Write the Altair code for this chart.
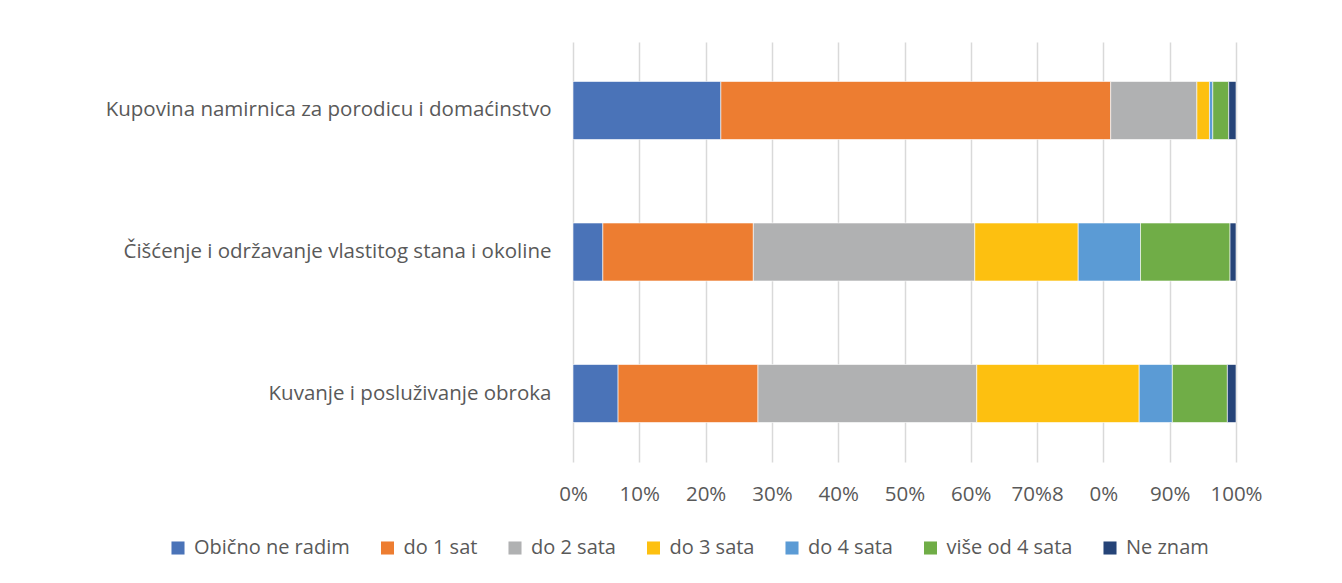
import altair as alt
import pandas as pd

activities = [
    "Kupovina namirnica za porodicu i domaćinstvo",
    "Čišćenje i održavanje vlastitog stana i okoline",
    "Kuvanje i posluživanje obroka",
]
categories = ["Obično ne radim", "do 1 sat", "do 2 sata", "do 3 sata", "do 4 sata", "više od 4 sata", "Ne znam"]
colors = ["#4a73b8", "#ed7d31", "#b0b1b2", "#fdc010", "#5b9bd5", "#70ad47", "#264478"]

kupovina = [22.3, 58.8, 13.0, 1.9, 0.5, 2.4, 1.1]
ciscenje = [4.5, 22.7, 33.4, 15.6, 9.4, 13.5, 0.9]
kuvanje = [6.8, 21.1, 33.0, 24.5, 5.0, 8.3, 1.3]

rows = []
for act, vals in zip(activities, [kupovina, ciscenje, kuvanje]):
    total = sum(vals)
    for i, (cat, v) in enumerate(zip(categories, vals)):
        rows.append({"activity": act, "category": cat, "value": v / total, "order": i})
df = pd.DataFrame(rows)

FONT = "Open Sans"
TXT = "#595959"
FS = 20.5

label_expr = ("datum.value > 0.65 && datum.value < 0.75 ? '70%8' : "
              "(datum.value > 0.75 && datum.value < 0.85 ? '0%' : format(datum.value, '.0%'))")

chart = alt.Chart(df).mark_bar(stroke="white", strokeWidth=0.6).encode(
    x=alt.X("value:Q", stack="zero",
            scale=alt.Scale(domain=[0, 1], nice=False),
            axis=alt.Axis(values=[0, 0.1, 0.2, 0.3, 0.4, 0.5, 0.6, 0.7, 0.8, 0.9, 1.0],
                          labelExpr=label_expr, labelFlush=False, labelOverlap=False,
                          title=None, ticks=False, domain=False, grid=True,
                          gridColor="#d9d9d9", gridWidth=1.5,
                          labelPadding=22, labelFontSize=FS, labelColor=TXT, labelFont=FONT)),
    y=alt.Y("activity:N", sort=activities,
            scale=alt.Scale(paddingInner=0.59, paddingOuter=0.279),
            axis=alt.Axis(title=None, ticks=False, domain=False, labelPadding=22,
                          labelFontSize=FS, labelColor=TXT, labelFont=FONT, labelLimit=700)),
    color=alt.Color("category:N", sort=categories,
                    scale=alt.Scale(domain=categories, range=colors),
                    legend=alt.Legend(title=None, orient="none", direction="horizontal",
                                      columns=7, legendX=-405, legendY=496,
                                      symbolType="square", symbolSize=170, symbolStrokeWidth=0,
                                      labelFontSize=20, labelColor=TXT, labelFont=FONT,
                                      columnPadding=27.5, labelOffset=6, labelLimit=300)),
    order=alt.Order("order:Q"),
).properties(
    width=663, height=420,
    background="white",
    autosize=alt.AutoSizeParams(type="none"),
    padding={"left": 565, "top": 34, "right": 90, "bottom": 110},
).configure_view(strokeWidth=0, stroke="transparent")

chart.save("out.html", embed_options={"renderer": "svg", "actions": False})
